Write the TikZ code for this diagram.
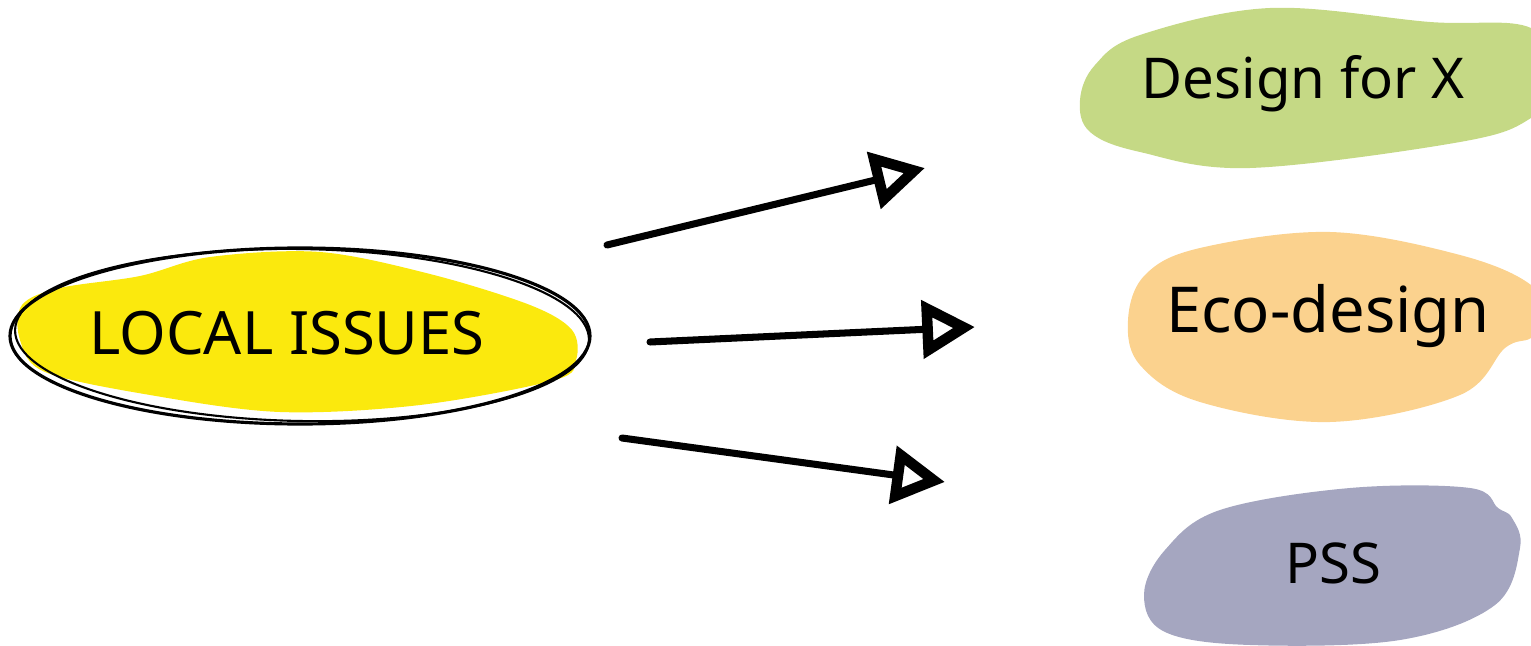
\documentclass[tikz,border=0pt]{standalone}
\usepackage{fontspec}
\setmainfont{Noto Sans}
\usetikzlibrary{arrows.meta}
\definecolor{yel}{HTML}{FBE90D}
\definecolor{grn}{HTML}{C5D985}
\definecolor{org}{HTML}{FBD28E}
\definecolor{pur}{HTML}{A5A6C0}
\tikzset{
  blobtext/.style={text=black, inner sep=0pt},
  sketcharrow/.style={line width=2pt, line cap=round, -{Triangle[open,length=15pt,width=16pt,line width=3pt]}},
  rim/.style={line width=0.9pt, draw=black}
}
\begin{document}
\begin{tikzpicture}[x=0.01cm,y=-0.01cm]
\useasboundingbox (0,0) rectangle (1531,646);
% yellow blob
\fill[yel] plot[smooth cycle, tension=0.55] coordinates {(22,305) (60,288) (140,276) (210,257) (320,252) (430,274) (530,305) (572,330) (576,360) (555,380) (420,405) (280,412) (150,395) (45,372) (20,340)};
\draw[rim] (300,336) ellipse [x radius=290, y radius=88];
\draw[rim, line width=0.6pt, rotate around={-1:(300,336)}] (302,335) ellipse [x radius=287, y radius=86];
\node[blobtext, font=\fontsize{17}{20}\selectfont] (local) at (287,333) {LOCAL ISSUES};
% green blob
\fill[grn] plot[smooth cycle, tension=0.6] coordinates {(1080,100) (1095,65) (1140,35) (1270,8) (1430,22) (1531,28) (1560,80) (1531,118) (1460,142) (1250,168) (1140,152) (1090,132)};
\node[blobtext, font=\fontsize{16}{19}\selectfont] (dfx) at (1303,84) {Design for X};
% orange blob
\fill[org] plot[smooth cycle, tension=0.6] coordinates {(1128,320) (1145,275) (1200,248) (1330,232) (1460,255) (1531,285) (1545,320) (1531,338) (1505,348) (1460,395) (1330,422) (1200,402) (1140,365)};
\node[blobtext, font=\fontsize{18}{22}\selectfont] (eco) at (1328,316) {Eco-design};
% purple blob
\fill[pur] plot[smooth cycle, tension=0.6] coordinates {(1144,595) (1165,550) (1220,510) (1350,488) (1470,488) (1498,508) (1512,518) (1520,548) (1495,605) (1400,640) (1250,645) (1165,632)};
\node[blobtext, font=\fontsize{16}{19}\selectfont] (pss) at (1333,563) {PSS};
% arrows
\coordinate (a1s) at (607,245);
\coordinate (a1e) at (925,168);
\coordinate (a2s) at (650,342);
\coordinate (a2e) at (975,327);
\coordinate (a3s) at (622,438);
\coordinate (a3e) at (945,482);
\draw[sketcharrow] (a1s) -- (a1e);
\draw[sketcharrow] (a2s) -- (a2e);
\draw[sketcharrow] (a3s) -- (a3e);
\end{tikzpicture}
\end{document}
